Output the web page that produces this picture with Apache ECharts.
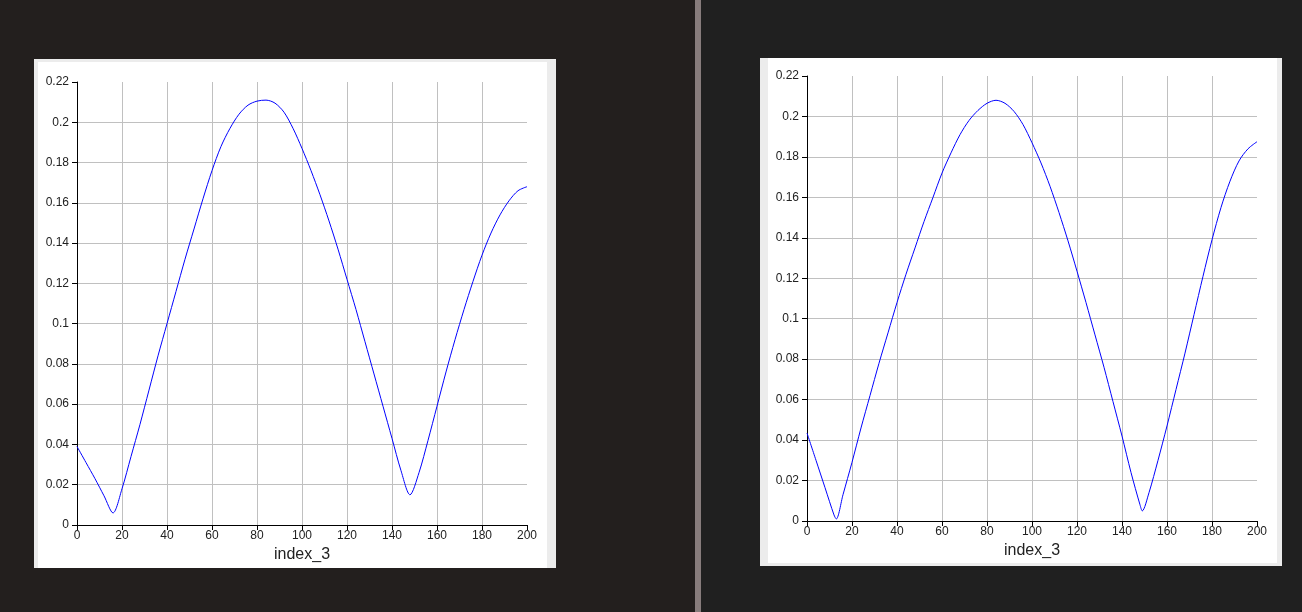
<!DOCTYPE html>
<html><head><meta charset="utf-8">
<script src="https://cdn.jsdelivr.net/npm/echarts@6/dist/echarts.min.js"></script>
<style>
html,body{margin:0;padding:0;width:1302px;height:612px;overflow:hidden;}
body{background:#202020;position:relative;font-family:"Liberation Sans",Arial,sans-serif;}
.bg{position:absolute;}
#chart{position:absolute;left:0;top:0;width:1302px;height:612px;}
</style></head>
<body>
<div class="bg" style="left:0;top:0;width:695px;height:612px;background:#231f1e"></div>
<div class="bg" style="left:695px;top:0;width:6px;height:612px;background:#877c7c"></div>
<div class="bg" style="left:34px;top:59px;width:522px;height:509px;background:#ececec"></div>
<div class="bg" style="left:38px;top:62px;width:509px;height:506px;background:#ffffff"></div>
<div class="bg" style="left:760px;top:58px;width:522px;height:508px;background:#ececec"></div>
<div class="bg" style="left:768px;top:58px;width:509px;height:505px;background:#ffffff"></div>
<div id="chart"></div>
<script>
const xTicks = [0, 20, 40, 60, 80, 100, 120, 140, 160, 180, 200];
const yTicks = [0, 0.02, 0.04, 0.06, 0.08, 0.1, 0.12, 0.14, 0.16, 0.18, 0.2, 0.22];
const axisName = "index_3";

const leftX = [0,4,8,12,16,20,24,28,32,36,40,44,48,52,56,60,64,68,72,76,80,84,88,92,96,100,104,108,112,116,120,124,128,132,136,140,144,148,152,156,160,164,168,172,176,180,184,188,192,196,200];
const leftY = [0.039,0.031,0.023,0.0145,0.006,0.018,0.034,0.050,0.067,0.084,0.100,0.116,0.132,0.147,0.162,0.176,0.188,0.197,0.204,0.2085,0.2105,0.211,0.2095,0.205,0.197,0.187,0.176,0.164,0.151,0.137,0.122,0.107,0.091,0.075,0.059,0.043,0.027,0.015,0.026,0.042,0.059,0.076,0.092,0.107,0.121,0.134,0.145,0.154,0.161,0.166,0.168];

const rightX = [0,4,8,12,13,16,20,24,28,32,36,40,44,48,52,56,60,64,68,72,76,80,84,88,92,96,100,104,108,112,116,120,124,128,132,136,140,144,148,149,152,156,160,164,168,172,176,180,184,188,192,196,200];
const rightY = [0.0435,0.030,0.0165,0.003,0.001,0.013,0.029,0.046,0.062,0.078,0.093,0.108,0.122,0.135,0.148,0.160,0.172,0.182,0.191,0.198,0.203,0.2065,0.208,0.2065,0.2025,0.196,0.187,0.177,0.1655,0.1525,0.1385,0.1235,0.108,0.092,0.076,0.059,0.042,0.024,0.008,0.005,0.014,0.030,0.047,0.065,0.083,0.102,0.121,0.139,0.155,0.168,0.178,0.184,0.1875];

const pair = (xs, ys) => xs.map((x, i) => [x, ys[i]]);
const fmtY = v => { const r = Math.round(v * 100) / 100; return String(r); };

function xAxis(gi) {
  return {
    type: 'value', gridIndex: gi, min: 0, max: 200, interval: 20,
    name: axisName, nameLocation: 'middle', nameGap: 20,
    nameTextStyle: { fontSize: 16, color: '#222', fontFamily: 'Liberation Sans' },
    axisLine: { show: true, onZero: false, lineStyle: { color: '#000', width: 1 } },
    axisTick: { show: true, inside: false, length: 5, lineStyle: { color: '#000' } },
    axisLabel: { color: '#222', fontSize: 12, margin: 5, fontFamily: 'Liberation Sans' },
    splitLine: { show: true, showMinLine: false, showMaxLine: false, lineStyle: { color: '#c0c0c0', width: 1 } }
  };
}
function yAxis(gi) {
  return {
    type: 'value', gridIndex: gi, min: 0, max: 0.22, interval: 0.02,
    axisLine: { show: true, lineStyle: { color: '#000', width: 1 } },
    axisTick: { show: true, inside: false, length: 5, lineStyle: { color: '#000' } },
    axisLabel: { color: '#222', fontSize: 12, margin: 8, formatter: fmtY, fontFamily: 'Liberation Sans' },
    splitLine: { show: true, showMinLine: false, showMaxLine: false, lineStyle: { color: '#c0c0c0', width: 1 } }
  };
}
function series(gi, data) {
  return {
    type: 'line', xAxisIndex: gi, yAxisIndex: gi, data: data,
    showSymbol: false, smooth: 0.3, animation: false,
    lineStyle: { color: '#0000ff', width: 1 }
  };
}

const chart = echarts.init(document.getElementById('chart'), null, { renderer: 'canvas' });
chart.setOption({
  backgroundColor: 'transparent',
  animation: false,
  grid: [
    { left: 77, top: 82, width: 450, height: 443 },
    { left: 807, top: 76, width: 450, height: 445 }
  ],
  xAxis: [xAxis(0), xAxis(1)],
  yAxis: [yAxis(0), yAxis(1)],
  series: [series(0, pair(leftX, leftY)), series(1, pair(rightX, rightY))]
});
</script>
</body></html>
